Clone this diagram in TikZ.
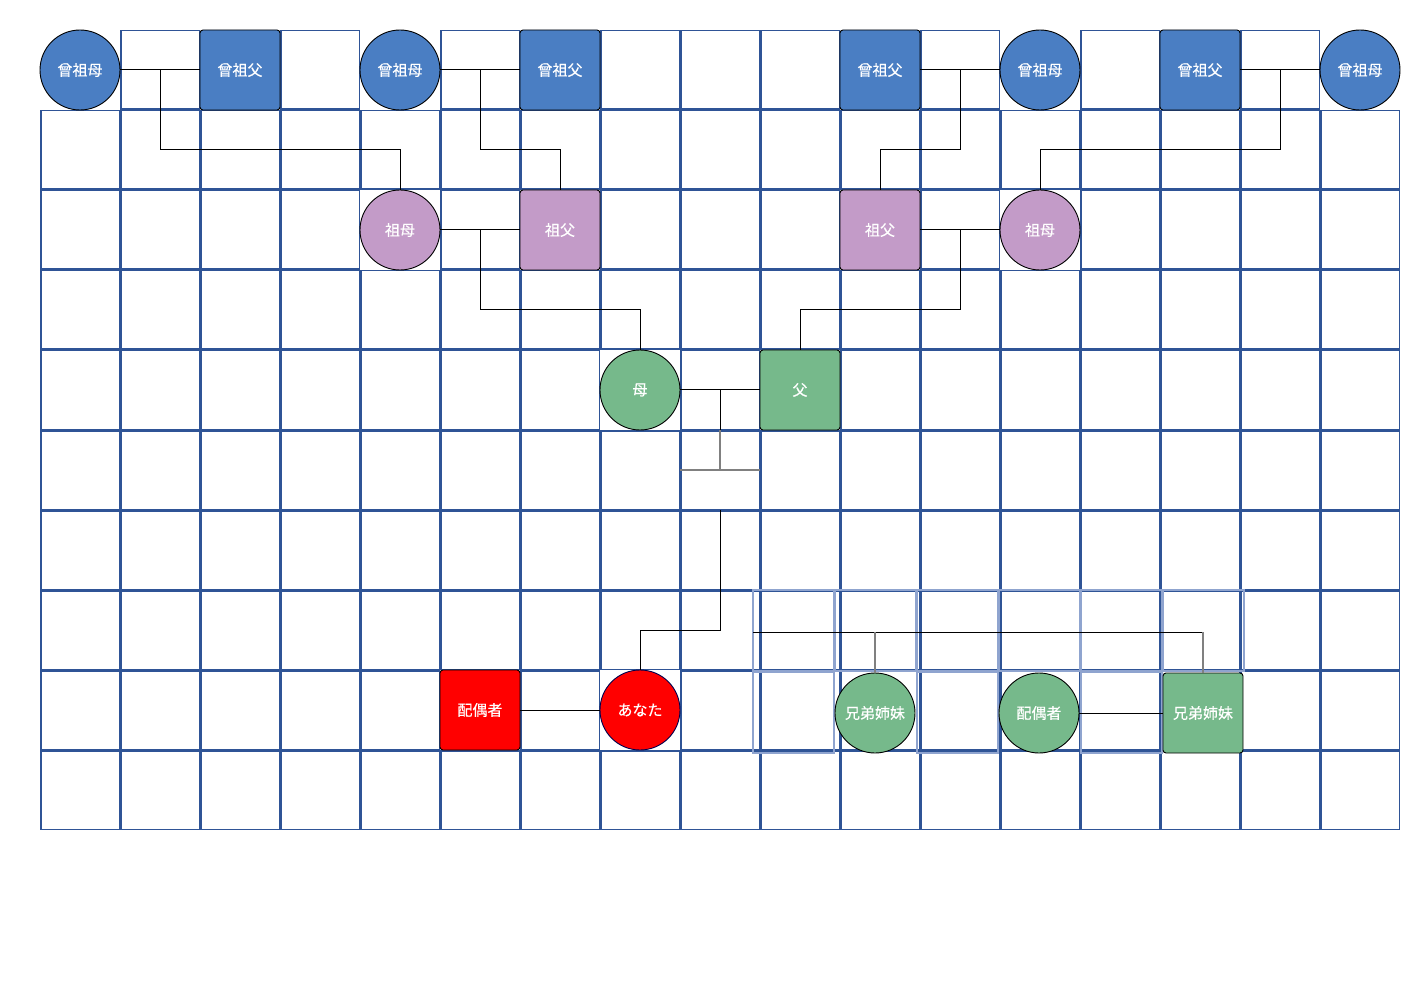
\documentclass[tikz,border=0pt]{standalone}
\usepackage{fontspec}
\newfontfamily\jpfont[FakeBold=0.5]{Noto Sans CJK JP}
\usetikzlibrary{calc,positioning}
\definecolor{gridblue}{HTML}{2F5496}
\definecolor{lightgrid}{HTML}{8FA4CF}
\definecolor{ggblue}{HTML}{4A7EC3}
\definecolor{gpurple}{HTML}{C39BC8}
\definecolor{pgreen}{HTML}{76B98B}
\definecolor{linkgray}{HTML}{808080}
\tikzset{
    x=1pt,y=-1pt,
    cell/.style={draw=gridblue,line width=1.5pt},
    subcell/.style={draw=lightgrid,line width=1.2pt},
    person/.style={draw=black,line width=0.9pt,minimum size=80pt,inner sep=0pt,outer sep=0pt,
                   text=white,font=\jpfont\fontsize{15}{17}\selectfont},
    female/.style={person,circle},
    male/.style={person,rectangle,rounded corners=3pt},
    link/.style={draw=black,line width=1pt},
    softlink/.style={draw=linkgray,line width=1.5pt}
}
\newcommand{\skipcell}[2]{\expandafter\def\csname skipcell-#1-#2\endcsname{}}
\skipcell{0}{0}\skipcell{0}{2}\skipcell{0}{4}\skipcell{0}{6}
\skipcell{0}{10}\skipcell{0}{12}\skipcell{0}{14}\skipcell{0}{16}
\skipcell{2}{4}\skipcell{2}{6}\skipcell{2}{10}\skipcell{2}{12}
\skipcell{4}{7}\skipcell{4}{9}
\skipcell{8}{5}\skipcell{8}{7}

\begin{document}
\begin{tikzpicture}
  \useasboundingbox (0,0) rectangle (1425,1000);

  % sheet grid
  \foreach \r in {0,...,9}{
    \foreach \c in {0,...,16}{
      \ifcsname skipcell-\r-\c\endcsname\else
        \draw[cell] ({40+80*\c+0.75},{30+80*\r+0.75}) rectangle ({40+80*\c+79.25},{30+80*\r+79.25});
      \fi
    }
  }
  \foreach \x in {753,835,917,999,1081,1163}
    \draw[subcell] (\x,590) rectangle ({\x+81},671);
  \foreach \x in {753,917,1081}
    \draw[subcell] (\x,672) rectangle ({\x+81},753);

  % great-grandparents
  \node (ggm1) at (80,70) [female,fill=ggblue] {曾祖母};
  \node (ggf1) at (240,70) [male,fill=ggblue] {曾祖父};
  \node (ggm2) at (400,70) [female,fill=ggblue] {曾祖母};
  \node (ggf2) at (560,70) [male,fill=ggblue] {曾祖父};
  \node (ggf3) at (880,70) [male,fill=ggblue] {曾祖父};
  \node (ggm3) at (1040,70) [female,fill=ggblue] {曾祖母};
  \node (ggf4) at (1200,70) [male,fill=ggblue] {曾祖父};
  \node (ggm4) at (1360,70) [female,fill=ggblue] {曾祖母};
  % grandparents
  \node (gm1) at (400,230) [female,fill=gpurple] {祖母};
  \node (gf1) at (560,230) [male,fill=gpurple] {祖父};
  \node (gf2) at (880,230) [male,fill=gpurple] {祖父};
  \node (gm2) at (1040,230) [female,fill=gpurple] {祖母};
  % parents
  \node (mo) at (640,390) [female,fill=pgreen] {母};
  \node (fa) at (800,390) [male,fill=pgreen] {父};
  % you and spouse
  \node (sp) at (480,710) [male,fill=red] {配偶者};
  \node (you) at (640,710) [female,fill=red,draw=black!70!blue] {あなた};
  % siblings
  \node (sib1) at (875,713) [female,fill=pgreen] {兄弟姉妹};
  \node (sibsp) at (1039,713) [female,fill=pgreen] {配偶者};
  \node (sib2) at (1203,713) [male,fill=pgreen] {兄弟姉妹};

  \draw[link] (ggm1) -- (ggf1) coordinate[midway] (c1);
  \draw[link] (c1) |- ($(gm1.north)+(0,-40)$) -- (gm1.north);
  \draw[link] (ggm2) -- (ggf2) coordinate[midway] (c2);
  \draw[link] (c2) |- ($(gf1.north)+(0,-40)$) -- (gf1.north);
  \draw[link] (ggf3) -- (ggm3) coordinate[midway] (c3);
  \draw[link] (c3) |- ($(gf2.north)+(0,-40)$) -- (gf2.north);
  \draw[link] (ggf4) -- (ggm4) coordinate[midway] (c4);
  \draw[link] (c4) |- ($(gm2.north)+(0,-40)$) -- (gm2.north);

  \draw[link] (gm1) -- (gf1) coordinate[midway] (c5);
  \draw[link] (c5) |- ($(mo.north)+(0,-40)$) -- (mo.north);
  \draw[link] (gf2) -- (gm2) coordinate[midway] (c6);
  \draw[link] (c6) |- ($(fa.north)+(0,-40)$) -- (fa.north);

  \draw[link] (mo) -- (fa) coordinate[midway] (c7);
  \draw[link] (c7) -- ++(0,40) coordinate (c8);
  \draw[softlink] (c8) -- ++(0,40) coordinate (c9);
  \draw[softlink] ($(c9)+(-40,0)$) -- ($(c9)+(40,0)$);
  \coordinate (c10) at ($(c9)+(0,40)$);
  \draw[link] (c10) |- ($(you.north)+(0,-40)$) -- (you.north);
  \draw[link] (sp) -- (you);

  \coordinate (sibline) at (753,632);
  \draw[link] (sibline) -- (sibline -| sib2.north);
  \draw[softlink] (sibline -| sib1.north) -- (sib1.north);
  \draw[softlink] (sibline -| sib2.north) -- (sib2.north);
  \draw[link] (sibsp) -- (sib2);
\end{tikzpicture}
\end{document}
